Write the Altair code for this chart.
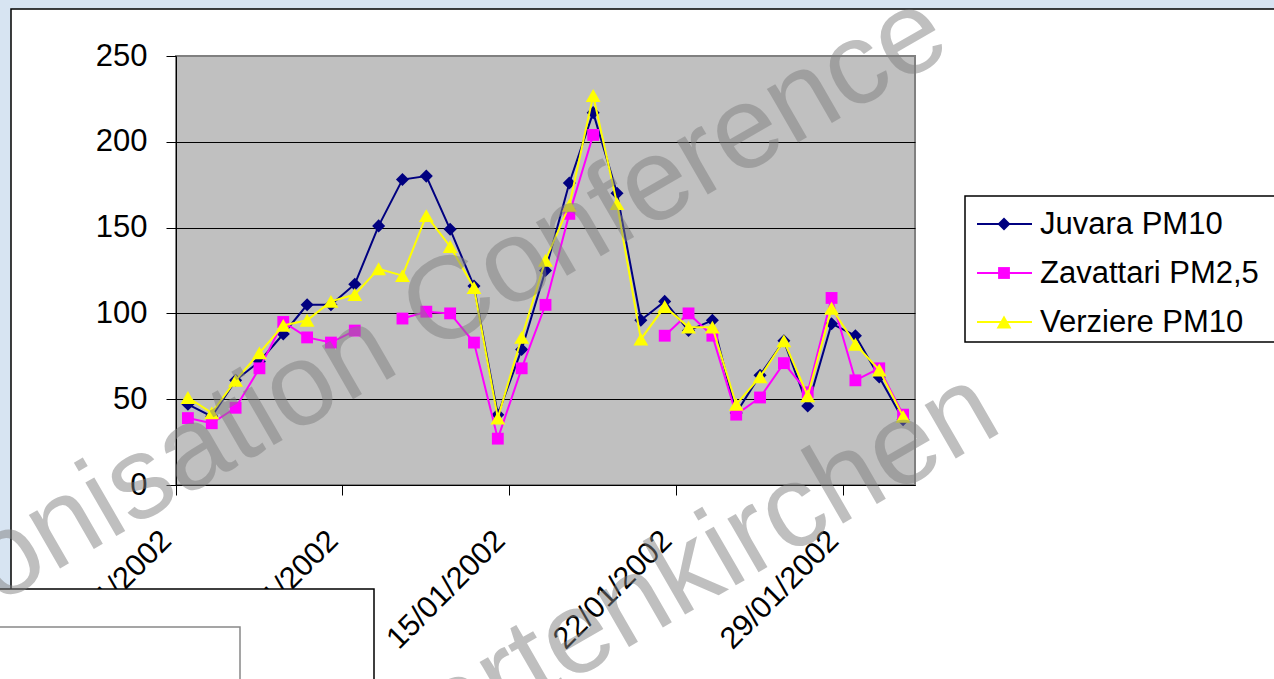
import altair as alt
import pandas as pd

FONT = "Liberation Sans"

# Daily categories and the labelled axis ticks
dates = [f"{d:02d}/01/2002" for d in range(1, 32)]
tick_labels = ["01/01/2002", "08/01/2002", "15/01/2002", "22/01/2002", "29/01/2002"]
y_ticks = [0, 50, 100, 150, 200, 250]

series_names = ["Juvara PM10", "Zavattari PM2,5", "Verziere PM10"]
series_colors = ["#000080", "#FF00FF", "#FFFF00"]
series_shapes = ["diamond", "square", "triangle-up"]
series_sizes = [170, 140, 220]

juvara = [47, 40, 61, 72, 88, 105, 105, 117, 151, 178, 180, 149, 116, 41, 79, 125,
          176, 217, 170, 96, 107, 90, 96, 42, 64, 84, 46, 94, 87, 63, 38]
zavattari = [39, 36, 45, 68, 95, 86, 83, 90, None, 97, 101, 100, 83, 27, 68, 105,
             158, 204, None, None, 87, 100, 87, 41, 51, 71, 54, 109, 61, 68, 41]
verziere = [51, 42, 61, 77, 93, 96, 107, 111, 126, 122, 157, 139, 115, 39, 86, 131,
            163, 227, 164, 85, 104, 92, 92, 47, 63, 84, 52, 103, 82, 67, 40]

series_values = [juvara, zavattari, verziere]

# Layout of the page (pixels)
PLOT_LEFT, PLOT_TOP, PLOT_W, PLOT_H = 176, 56, 739, 429
CANVAS_W, CANVAS_H = 1274, 679


def px(x):
    return x - PLOT_LEFT


def py(y):
    return y - PLOT_TOP


one_row = alt.Data(values=[{"k": 0}])

x_enc = alt.X(
    "date:N",
    sort=dates,
    scale=alt.Scale(type="band", domain=dates, paddingInner=0, paddingOuter=0),
    axis=alt.Axis(
        values=tick_labels, bandPosition=0, labelAngle=315, labelAlign="right",
        labelBaseline="top", labelFontSize=30.5, labelFont=FONT, labelColor="black",
        labelPadding=30, labelOffset=-32, labelOverlap=False, tickSize=10,
        tickColor="black", domainColor="black", domainWidth=1, grid=False, title=None,
    ),
)
y_enc = alt.Y(
    "value:Q",
    scale=alt.Scale(domain=[0, 250], nice=False, zero=True),
    axis=alt.Axis(
        values=y_ticks, labelFontSize=31, labelFont=FONT, labelColor="black",
        labelPadding=19, tickSize=10, tickColor="black", domainColor="black",
        domainWidth=1, grid=True, gridWidth=1,
        gridColor={"condition": {"test": "datum.value >= 250", "value": "#808080"},
                   "value": "black"},
        title=None,
    ),
)

layers = []

# Page background: blue strips around the white chart area and its border
layers.append(alt.Chart(one_row).mark_rect(color="#d7e4f2").encode(
    x=alt.value(px(0)), x2=alt.value(px(CANVAS_W + 5)),
    y=alt.value(py(-5)), y2=alt.value(py(9))))
layers.append(alt.Chart(one_row).mark_rect(color="#d7e4f2").encode(
    x=alt.value(px(-5)), x2=alt.value(px(11)),
    y=alt.value(py(-5)), y2=alt.value(py(589))))
layers.append(alt.Chart(one_row).mark_rect(fillOpacity=0, stroke="black", strokeWidth=1.5).encode(
    x=alt.value(px(11)), x2=alt.value(px(CANVAS_W + 20)),
    y=alt.value(py(9)), y2=alt.value(py(CANVAS_H + 20))))

# Data series: line then markers, series by series
for name, vals, color, shape, size in zip(series_names, series_values,
                                           series_colors, series_shapes, series_sizes):
    df = pd.DataFrame({"date": dates, "value": vals, "series": name})
    base = alt.Chart(df).encode(x=x_enc, y=y_enc)
    layers.append(base.mark_line(color=color, strokeWidth=2))
    layers.append(base.mark_point(shape=shape, size=size, filled=True,
                                  color=color, opacity=1))

# Overlapping boxes in the lower-left corner
layers.append(alt.Chart(one_row).mark_rect(fill="white", stroke="black", strokeWidth=1.5).encode(
    x=alt.value(px(-5)), x2=alt.value(px(374)),
    y=alt.value(py(589)), y2=alt.value(py(CANVAS_H + 20))))
layers.append(alt.Chart(one_row).mark_rect(fillOpacity=0, stroke="#888888", strokeWidth=1.5).encode(
    x=alt.value(px(-5)), x2=alt.value(px(240)),
    y=alt.value(py(627)), y2=alt.value(py(CANVAS_H + 20))))

# Legend
layers.append(alt.Chart(one_row).mark_rect(fill="white", stroke="black", strokeWidth=1.5).encode(
    x=alt.value(px(965)), x2=alt.value(px(CANVAS_W + 30)),
    y=alt.value(py(196)), y2=alt.value(py(342))))
legend_y = [224, 273, 322]
for name, color, shape, size, ly in zip(series_names, series_colors, series_shapes,
                                        series_sizes, legend_y):
    layers.append(alt.Chart(one_row).mark_rule(color=color, strokeWidth=2).encode(
        x=alt.value(px(977)), x2=alt.value(px(1032)), y=alt.value(py(ly))))
    layers.append(alt.Chart(one_row).mark_point(shape=shape, size=size, filled=True,
                                                color=color, opacity=1).encode(
        x=alt.value(px(1004)), y=alt.value(py(ly))))
    layers.append(alt.Chart(one_row).mark_text(
        text=name, font=FONT, fontSize=31, color="black", align="left",
        baseline="middle").encode(x=alt.value(px(1040)), y=alt.value(py(ly + 1))))

# Semi-transparent watermark lettering
layers.append(alt.Chart(one_row).mark_text(
    text="Harmonisation Conference", font=FONT, fontSize=117, color="#808080",
    opacity=0.5, angle=330, align="left", baseline="alphabetic").encode(
    x=alt.value(px(-251)), y=alt.value(py(748))))
layers.append(alt.Chart(one_row).mark_text(
    text="Garmisch-Partenkirchen", font=FONT, fontSize=117, color="#808080",
    opacity=0.5, angle=330, align="right", baseline="alphabetic").encode(
    x=alt.value(px(1005)), y=alt.value(py(430))))

chart = alt.layer(*layers).properties(
    width=PLOT_W,
    height=PLOT_H,
    padding={"left": PLOT_LEFT, "top": PLOT_TOP,
             "right": CANVAS_W - PLOT_LEFT - PLOT_W,
             "bottom": CANVAS_H - PLOT_TOP - PLOT_H},
    autosize=alt.AutoSizeParams(type="none"),
).configure(background="white").configure_view(
    fill="#C0C0C0", stroke="#808080", strokeWidth=2
)

chart.save("out.html", embed_options={"renderer": "svg", "actions": False})
